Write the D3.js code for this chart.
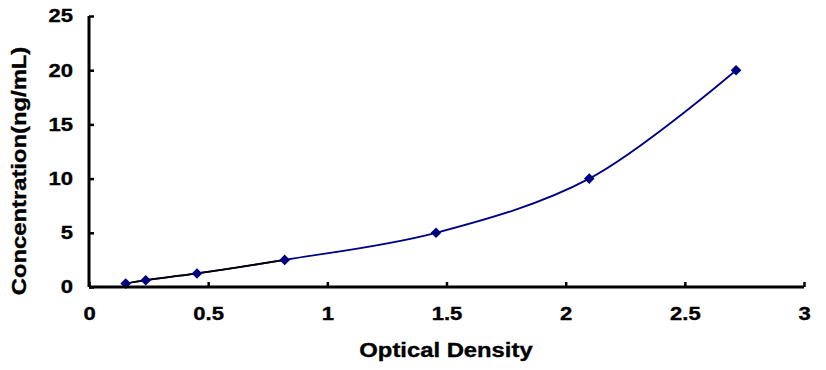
<!DOCTYPE html>
<html>
<head>
<meta charset="utf-8">
<script src="https://cdn.jsdelivr.net/npm/d3@7"></script>
<style>
  body { margin: 0; background: #fff; }
  svg { display: block; }
  text { font-family: "Liberation Sans", Arial, sans-serif; font-weight: bold; fill: #000; stroke: #000; stroke-width: 0.35px; }
</style>
</head>
<body>
<svg id="chart" width="826" height="370"></svg>
<script>
const odValues = [0.154, 0.238, 0.453, 0.821, 1.456, 2.099, 2.715];
const concValues = [0.312, 0.625, 1.25, 2.5, 5, 10, 20];
const xTicks = [0, 0.5, 1, 1.5, 2, 2.5, 3];
const yTicks = [0, 5, 10, 15, 20, 25];
const xTitle = "Optical Density";
const yTitle = "Concentration(ng/mL)";

const svg = d3.select("#chart");
const pLeft = 89, pRight = 804, pTop = 16, pBottom = 287;
const stretch = 1.19;

const x = d3.scaleLinear().domain([0, 3]).range([pLeft, pRight]);
const y = d3.scaleLinear().domain([0, 25]).range([pBottom, pTop]);

const data = odValues.map((v, i) => ({ x: v, y: concValues[i] }));

function widen(sel) {
  sel.each(function () {
    const w = this.getComputedTextLength();
    d3.select(this).attr("textLength", w * stretch).attr("lengthAdjust", "spacingAndGlyphs");
  });
}

// curve
const line = d3.line().x(d => x(d.x)).y(d => y(d.y)).curve(d3.curveCatmullRom.alpha(0.5));
svg.append("path").datum(data).attr("d", line)
  .attr("fill", "none").attr("stroke", "#000080").attr("stroke-width", 1.8);
// first part drawn black like the reference
svg.append("path").datum(data.slice(0, 4)).attr("d", line)
  .attr("fill", "none").attr("stroke", "#000").attr("stroke-width", 1.8);

// markers
svg.selectAll(".pt").data(data).enter().append("path")
  .attr("class", "pt")
  .attr("d", d3.symbol().type(d3.symbolDiamond2).size(72))
  .attr("transform", d => `translate(${x(d.x)},${y(d.y)})`)
  .attr("fill", "#000080");

// axes
const xAxis = d3.axisBottom(x).tickValues(xTicks).tickSize(-5).tickPadding(20)
  .tickFormat(d => d3.format("")(d));
const gx = svg.append("g").attr("transform", `translate(0,${pBottom})`).call(xAxis);
gx.select(".domain").attr("stroke", "#000").attr("stroke-width", 3).attr("d", `M${pLeft},0H${pRight}`);
gx.selectAll(".tick line").attr("stroke", "#000").attr("stroke-width", 2.5);
gx.selectAll(".tick text").attr("font-size", 18.5).attr("font-family", "Liberation Sans").attr("font-weight", "bold").attr("dy", "0.71em").call(widen);

const yAxis = d3.axisLeft(y).tickValues(yTicks).tickSize(-5).tickPadding(16);
const gy = svg.append("g").attr("transform", `translate(${pLeft},0)`).call(yAxis);
gy.select(".domain").attr("stroke", "#000").attr("stroke-width", 3).attr("d", `M0,${pTop}V${pBottom}`);
gy.selectAll(".tick line").attr("stroke", "#000").attr("stroke-width", 2.5);
gy.selectAll(".tick text").attr("font-size", 18.5).attr("font-family", "Liberation Sans").attr("font-weight", "bold").call(widen);

// titles
svg.append("text").attr("x", 446).attr("y", 357)
  .attr("text-anchor", "middle").attr("font-size", 20).text(xTitle).call(widen);
svg.append("text").attr("transform", `translate(26,171) rotate(-90)`)
  .attr("text-anchor", "middle").attr("font-size", 20).text(yTitle).call(widen);
</script>
</body>
</html>
